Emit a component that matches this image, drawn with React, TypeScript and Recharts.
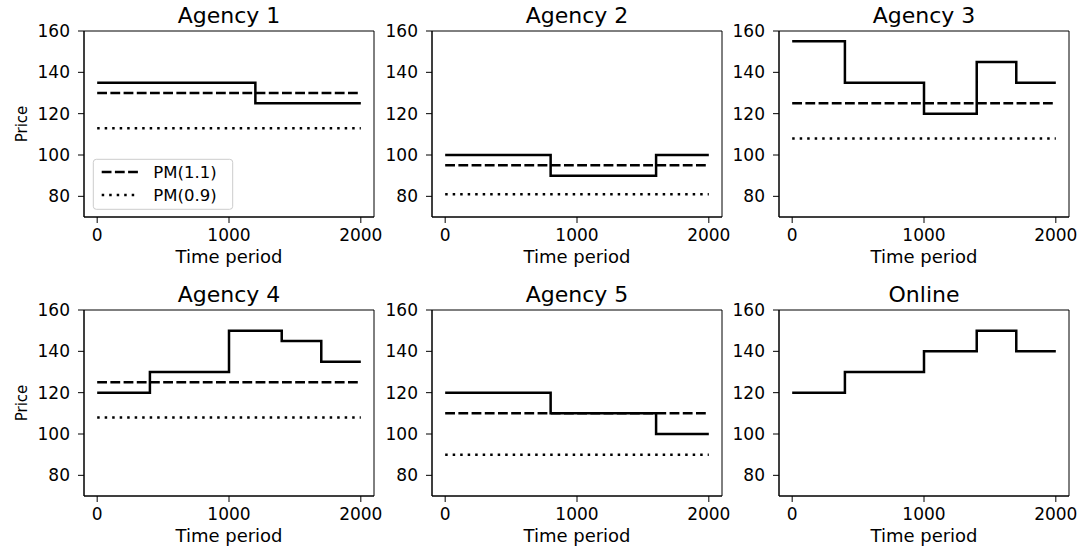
import React from 'react';
import { LineChart, Line, XAxis, YAxis, ReferenceArea } from 'recharts';

const titles = ['Agency 1', 'Agency 2', 'Agency 3', 'Agency 4', 'Agency 5', 'Online'];

const agency1Times = [0, 1200, 2000];
const agency1Prices = [135, 125, 125];
const agency2Times = [0, 800, 1600, 2000];
const agency2Prices = [100, 90, 100, 100];
const agency3Times = [0, 400, 1000, 1400, 1700, 2000];
const agency3Prices = [155, 135, 120, 145, 135, 135];
const agency4Times = [0, 400, 1000, 1400, 1700, 2000];
const agency4Prices = [120, 130, 150, 145, 135, 135];
const agency5Times = [0, 800, 1600, 2000];
const agency5Prices = [120, 110, 100, 100];
const onlineTimes = [0, 400, 1000, 1400, 1700, 2000];
const onlinePrices = [120, 130, 140, 150, 140, 140];

const pmHigh: (number | null)[] = [130, 95, 125, 125, 110, null];
const pmLow: (number | null)[] = [113, 81, 108, 108, 90, null];
const pmRange = [0, 2000];
const legendNames = ['PM(1.1)', 'PM(0.9)'];

const xTicks = [0, 1000, 2000];
const yTicks = [80, 100, 120, 140, 160];

const allTimes = [agency1Times, agency2Times, agency3Times, agency4Times, agency5Times, onlineTimes];
const allPrices = [agency1Prices, agency2Prices, agency3Prices, agency4Prices, agency5Prices, onlinePrices];

const FONT = '"DejaVu Sans", sans-serif';
const colLeft = [84, 432, 779];
const rowTop = [31, 310];
const PW = 290;
const PH = 186;
const YW = 75;
const MT = 10;
const MR = 10;
const XH = 50;

const DASH = '9.8 3.4';
const DOT = '2.5 5';

function Panel({ idx }: { idx: number }) {
  const col = idx % 3;
  const row = Math.floor(idx / 3);
  const stepData = allTimes[idx].map((t, i) => ({ t, v: allPrices[idx][i] }));
  const hi = pmHigh[idx];
  const lo = pmLow[idx];
  const hiData = hi == null ? null : pmRange.map((t) => ({ t, v: hi }));
  const loData = lo == null ? null : pmRange.map((t) => ({ t, v: lo }));
  const tickStyle = { fill: '#000', fontSize: 17, fontFamily: FONT };
  return (
    <div style={{ position: 'absolute', left: colLeft[col] - YW, top: rowTop[row] - MT }}>
      <LineChart
        width={YW + PW + MR}
        height={MT + PH + XH}
        margin={{ top: MT, right: MR, left: 0, bottom: 0 }}
      >
        <XAxis
          dataKey="t"
          type="number"
          domain={[-100, 2100]}
          ticks={xTicks}
          allowDataOverflow
          height={XH}
          tickSize={6}
          tickMargin={6}
          tick={tickStyle}
          tickLine={{ stroke: '#000' }}
          axisLine={{ stroke: '#000' }}
          label={{
            value: 'Time period',
            position: 'insideBottom',
            offset: 4,
            style: { fill: '#000', fontSize: 18, fontFamily: FONT },
          }}
        />
        <YAxis
          type="number"
          domain={[70, 160]}
          ticks={yTicks}
          allowDataOverflow
          width={YW}
          tickSize={6}
          tickMargin={8}
          tick={tickStyle}
          tickLine={{ stroke: '#000' }}
          axisLine={{ stroke: '#000' }}
          label={
            col === 0
              ? {
                  value: 'Price',
                  angle: -90,
                  position: 'insideLeft',
                  offset: 13,
                  style: { fill: '#000', fontSize: 15, fontFamily: FONT, textAnchor: 'middle' },
                }
              : undefined
          }
        />
        <ReferenceArea x1={-100} x2={2100} y1={70} y2={160} fill="none" stroke="#000" strokeWidth={1} ifOverflow="visible" />
        {hiData && (
          <Line
            data={hiData}
            dataKey="v"
            name={legendNames[0]}
            stroke="#000"
            strokeWidth={2.5}
            strokeDasharray={DASH}
            dot={false}
            activeDot={false}
            isAnimationActive={false}
          />
        )}
        {loData && (
          <Line
            data={loData}
            dataKey="v"
            name={legendNames[1]}
            stroke="#000"
            strokeWidth={2.5}
            strokeDasharray={DOT}
            dot={false}
            activeDot={false}
            isAnimationActive={false}
          />
        )}
        <Line
          data={stepData}
          dataKey="v"
          type="stepAfter"
          stroke="#000"
          strokeWidth={2.5}
          dot={false}
          activeDot={false}
          isAnimationActive={false}
        />
      </LineChart>
    </div>
  );
}

export default function App() {
  return (
    <div style={{ position: 'absolute', left: 0, top: 0, width: 1082, height: 547, background: '#fff', overflow: 'hidden' }}>
      {titles.map((_, i) => (
        <Panel key={i} idx={i} />
      ))}
      <svg width={1082} height={547} style={{ position: 'absolute', left: 0, top: 0, pointerEvents: 'none' }}>
        {titles.map((t, i) => (
          <text
            key={t}
            x={colLeft[i % 3] + PW / 2}
            y={rowTop[Math.floor(i / 3)] - 8.5}
            textAnchor="middle"
            fontSize={22}
            fontFamily={FONT}
            fill="#000"
          >
            {t}
          </text>
        ))}
        <rect x={93.3} y={159.3} width={139.4} height={50} rx={3} fill="#fff" fillOpacity={0.8} stroke="#cccccc" strokeWidth={1} />
        <line x1={101.7} x2={138.3} y1={172} y2={172} stroke="#000" strokeWidth={2.5} strokeDasharray={DASH} />
        <line x1={101.7} x2={138.3} y1={195} y2={195} stroke="#000" strokeWidth={2.5} strokeDasharray={DOT} />
        <text x={153.3} y={177.8} fontSize={16.5} fontFamily={FONT} fill="#000">{legendNames[0]}</text>
        <text x={153.3} y={200.8} fontSize={16.5} fontFamily={FONT} fill="#000">{legendNames[1]}</text>
      </svg>
    </div>
  );
}
